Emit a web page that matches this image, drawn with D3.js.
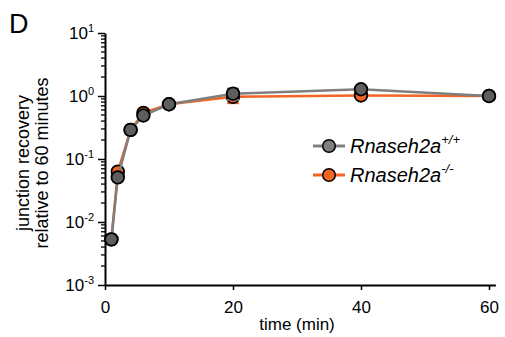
<!DOCTYPE html>
<html>
<head>
<meta charset="utf-8">
<script src="https://cdn.jsdelivr.net/npm/d3@7"></script>
<style>
  body { margin: 0; background: #fff; }
  text { font-family: "Liberation Sans", Arial, sans-serif; }
</style>
</head>
<body>
<div id="chart"></div>
<script>
let times = [1, 2, 4, 6, 10, 20, 40, 60]
let wtValues = [0.0053, 0.051, 0.29, 0.49, 0.74, 1.09, 1.28, 1.0]
let wtErrors = [0.0004, 0.004, 0.02, 0.04, 0.05, 0.22, 0.1, 0.1]
let koValues = [0.0053, 0.063, 0.29, 0.54, 0.74, 0.97, 1.02, 1.0]
let koErrors = [0.0004, 0.005, 0.02, 0.04, 0.05, 0.2, 0.1, 0.13]
let xTicks = [0, 20, 40, 60]
let yTicks = [-3, -2, -1, 0, 1]

let W = 505
let H = 337

function main () {
  let svg = d3.select('#chart').append('svg').attr('width', W).attr('height', H)

  let x = d3.scaleLinear().domain([0, 61]).range([105, 495.4])
  let y = d3.scaleLog().domain([1e-3, 10]).range([285, 33])

  // minor ticks on the log axis
  let minor = []
  for (let e = -3; e < 1; e++) {
    for (let m = 2; m <= 9; m++) minor.push(m * Math.pow(10, e))
  }
  svg.append('g').selectAll('line').data(minor).join('line')
    .attr('x1', 101).attr('x2', 105)
    .attr('y1', (d) => y(d)).attr('y2', (d) => y(d))
    .attr('stroke', '#000').attr('stroke-width', 1.3)

  let yAxis = svg.append('g').attr('transform', 'translate(105,0)')
    .call(d3.axisLeft(y).tickValues(yTicks.map((e) => Math.pow(10, e))).tickSize(7).tickSizeOuter(0).tickFormat(''))
  yAxis.select('.domain').attr('stroke-width', 2)
  yAxis.selectAll('.tick line').attr('stroke-width', 1.5)

  let labels = svg.append('g').selectAll('text').data(yTicks).join('text')
    .attr('x', 94).attr('y', (d) => y(Math.pow(10, d)) + 6)
    .attr('text-anchor', 'end').attr('font-size', 17)
  labels.append('tspan').text('10')
  labels.append('tspan').attr('dy', -7).attr('font-size', 11).text((d) => d)

  let xAxis = svg.append('g').attr('transform', 'translate(0,285)')
    .call(d3.axisBottom(x).tickValues(xTicks).tickSize(5).tickSizeOuter(0))
  xAxis.select('.domain').attr('stroke-width', 2)
  xAxis.selectAll('.tick line').attr('stroke-width', 1.5)
  xAxis.selectAll('.tick text').attr('font-size', 17).attr('font-family', '"Liberation Sans", Arial, sans-serif')
    .attr('dy', null).attr('y', 28).attr('fill', '#000')

  svg.append('text').attr('x', 297).attr('y', 330).attr('text-anchor', 'middle').attr('font-size', 17).text('time (min)')

  let yl = svg.append('text').attr('transform', 'translate(0,163) rotate(-90)').attr('text-anchor', 'middle').attr('font-size', 18)
  yl.append('tspan').attr('x', 0).attr('y', 29).text('junction recovery')
  yl.append('tspan').attr('x', 0).attr('y', 48).text('relative to 60 minutes')

  svg.append('text').attr('x', 9).attr('y', 33).attr('font-size', 27).text('D')

  let series = [
    { name: 'ko', values: koValues, errors: koErrors, line: '#f26522', fill: '#f26522' },
    { name: 'wt', values: wtValues, errors: wtErrors, line: '#7f7f7f', fill: '#5e5e5e' }
  ]

  let line = d3.line().x((d) => x(d.t)).y((d) => y(d.v))

  series.forEach((s) => {
    let pts = times.map((t, i) => ({ t: t, v: s.values[i], e: s.errors[i] }))
    let g = svg.append('g')
    g.append('path').datum(pts).attr('d', line).attr('fill', 'none').attr('stroke', s.line).attr('stroke-width', 2.5)
    let eb = g.append('g').selectAll('g').data(pts).join('g')
    eb.append('line').attr('x1', (d) => x(d.t)).attr('x2', (d) => x(d.t))
      .attr('y1', (d) => y(d.v + d.e)).attr('y2', (d) => y(d.v - d.e))
      .attr('stroke', s.line).attr('stroke-width', 1.5)
    eb.append('line').attr('x1', (d) => x(d.t) - 6).attr('x2', (d) => x(d.t) + 6)
      .attr('y1', (d) => y(d.v + d.e)).attr('y2', (d) => y(d.v + d.e))
      .attr('stroke', s.line).attr('stroke-width', 2)
    eb.append('line').attr('x1', (d) => x(d.t) - 6).attr('x2', (d) => x(d.t) + 6)
      .attr('y1', (d) => y(d.v - d.e)).attr('y2', (d) => y(d.v - d.e))
      .attr('stroke', s.line).attr('stroke-width', 2)
    g.append('g').selectAll('circle').data(pts).join('circle')
      .attr('cx', (d) => x(d.t)).attr('cy', (d) => y(d.v)).attr('r', 6.3)
      .attr('fill', s.fill).attr('stroke', '#000').attr('stroke-width', 1.8)
  })

  // legend
  let legend = [
    { label: 'Rnaseh2a', sup: '+/+', line: '#808080', fill: '#7f7f7f', y: 146 },
    { label: 'Rnaseh2a', sup: '-/-', line: '#f26522', fill: '#f26522', y: 175 }
  ]
  let lg = svg.append('g').selectAll('g').data(legend).join('g')
  lg.append('line').attr('x1', 313).attr('x2', 345).attr('y1', (d) => d.y).attr('y2', (d) => d.y)
    .attr('stroke', (d) => d.line).attr('stroke-width', 3)
  lg.append('circle').attr('cx', 329).attr('cy', (d) => d.y).attr('r', 6.3)
    .attr('fill', (d) => d.fill).attr('stroke', '#000').attr('stroke-width', 1.5)
  let lt = lg.append('text').attr('x', 350).attr('y', (d) => d.y + 7).attr('font-size', 20).attr('font-style', 'italic')
  lt.append('tspan').text((d) => d.label)
  lt.append('tspan').attr('dy', -9).attr('font-size', 13).text((d) => d.sup)
}

main()
</script>
</body>
</html>
